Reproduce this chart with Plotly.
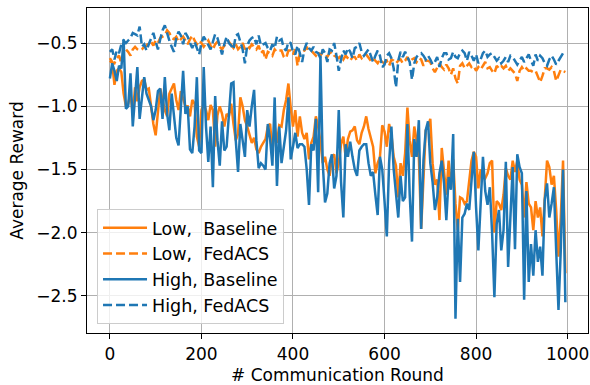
import plotly.graph_objects as go

# Communication rounds (every 5 rounds)
rounds = list(range(0, 1000, 5))

low_baseline = [
    -0.64, -0.66, -0.83, -0.72, -0.70, -0.73, -0.90, -1.00, -0.98, -0.90,
    -1.06, -0.85, -0.96, -0.85, -0.80, -0.79, -0.87, -0.86, -1.00, -1.14,
    -1.23, -1.05, -0.86, -0.95, -1.03, -1.08, -0.90, -0.86, -0.82, -0.95,
    -1.03, -0.88, -0.95, -1.00, -1.00, -1.08, -0.95, -0.98, -1.24, -1.32,
    -1.03, -0.98, -1.03, -1.11, -0.99, -1.03, -1.32, -1.07, -1.00, -1.06,
    -1.16, -1.06, -1.08, -0.98, -1.14, -1.27, -1.22, -0.93, -1.00, -1.11,
    -1.16, -1.22, -1.29, -1.25, -1.34, -1.37, -1.32, -1.29, -1.26, -1.16,
    -1.14, -1.36, -1.16, -1.29, -1.15, -1.16, -1.03, -0.95, -0.82, -1.01,
    -1.16, -1.03, -1.24, -1.08, -1.21, -1.26, -1.21, -1.42, -1.29, -1.24,
    -1.08, -1.16, -1.28, -1.45, -1.40, -1.50, -1.55, -1.40, -1.38, -1.53,
    -1.45, -1.30, -1.24, -1.40, -1.26, -1.20, -1.19, -1.16, -1.27, -1.30,
    -1.21, -1.16, -1.08, -1.18, -1.26, -1.32, -1.53, -1.45, -1.40, -1.15,
    -1.20, -1.32, -1.14, -1.22, -1.40, -1.47, -1.72, -1.45, -1.55, -1.37,
    -1.01, -1.27, -1.40, -1.16, -1.27, -1.40, -1.97, -1.55, -1.19, -1.16,
    -1.10, -1.45, -1.62, -1.58, -1.90, -1.33, -1.50, -1.70, -1.43, -1.65,
    -1.42, -1.77, -1.98, -1.72, -1.73, -1.77, -1.75, -1.59, -1.43, -1.36,
    -1.40, -1.65, -1.50, -1.55, -1.57, -1.53, -1.45, -1.43, -2.00, -1.75,
    -1.77, -1.82, -1.70, -1.49, -1.55, -1.58, -1.43, -1.52, -1.43, -1.58,
    -1.62, -1.88, -1.60, -1.77, -1.80, -1.98, -1.75, -1.88, -1.80, -2.03,
    -1.72, -1.43, -1.48, -1.62, -1.55, -1.82, -2.19, -1.88, -1.43, -2.32,
]

low_fedacs = [
    -0.62, -0.65, -0.66, -0.62, -0.60, -0.66, -0.58, -0.55, -0.57, -0.60,
    -0.55, -0.53, -0.55, -0.56, -0.55, -0.53, -0.52, -0.50, -0.49, -0.52,
    -0.48, -0.50, -0.46, -0.45, -0.44, -0.40, -0.42, -0.46, -0.47, -0.45,
    -0.49, -0.47, -0.45, -0.48, -0.51, -0.47, -0.44, -0.48, -0.51, -0.48,
    -0.50, -0.53, -0.50, -0.48, -0.52, -0.55, -0.51, -0.49, -0.53, -0.55,
    -0.52, -0.50, -0.49, -0.52, -0.54, -0.51, -0.55, -0.53, -0.50, -0.55,
    -0.52, -0.54, -0.51, -0.53, -0.55, -0.52, -0.58, -0.56, -0.63, -0.57,
    -0.58, -0.60, -0.55, -0.57, -0.56, -0.56, -0.61, -0.62, -0.56, -0.56,
    -0.59, -0.55, -0.68, -0.58, -0.57, -0.56, -0.53, -0.57, -0.56, -0.58,
    -0.60, -0.57, -0.60, -0.57, -0.58, -0.61, -0.58, -0.57, -0.60, -0.61,
    -0.62, -0.60, -0.63, -0.60, -0.62, -0.64, -0.61, -0.61, -0.64, -0.59,
    -0.62, -0.60, -0.59, -0.62, -0.64, -0.62, -0.64, -0.66, -0.63, -0.65,
    -0.66, -0.64, -0.68, -0.63, -0.64, -0.66, -0.64, -0.63, -0.66, -0.64,
    -0.61, -0.65, -0.63, -0.62, -0.65, -0.62, -0.63, -0.68, -0.64, -0.64,
    -0.65, -0.70, -0.73, -0.69, -0.66, -0.69, -0.71, -0.67, -0.70, -0.75,
    -0.70, -0.78, -0.82, -0.68, -0.66, -0.70, -0.68, -0.66, -0.69, -0.68,
    -0.72, -0.69, -0.71, -0.68, -0.65, -0.70, -0.69, -0.72, -0.74, -0.68,
    -0.70, -0.68, -0.70, -0.68, -0.72, -0.70, -0.72, -0.74, -0.80, -0.72,
    -0.69, -0.72, -0.70, -0.72, -0.72, -0.73, -0.72, -0.76, -0.81, -0.76,
    -0.70, -0.70, -0.71, -0.69, -0.72, -0.80, -0.76, -0.71, -0.72, -0.73,
]

high_baseline = [
    -0.78, -0.66, -0.72, -0.80, -0.68, -0.70, -0.47, -1.02, -1.00, -0.74,
    -1.16, -0.95, -0.69, -1.10, -0.95, -0.77, -0.90, -0.96, -1.00, -1.11,
    -1.03, -0.88, -0.86, -1.10, -0.77, -1.06, -1.19, -0.90, -1.08, -1.25,
    -1.31, -1.03, -0.72, -1.06, -1.00, -1.34, -1.37, -1.16, -0.77, -1.35,
    -1.37, -0.69, -1.16, -1.44, -1.16, -1.64, -0.92, -1.27, -1.47, -1.12,
    -1.35, -1.32, -1.10, -0.82, -0.81, -1.27, -1.52, -1.14, -1.27, -1.40,
    -1.03, -1.16, -1.00, -0.87, -1.27, -1.49, -1.45, -1.47, -1.50, -1.14,
    -1.26, -1.47, -0.93, -1.63, -1.16, -1.45, -1.32, -1.19, -0.93, -1.42,
    -1.32, -1.21, -1.33, -1.30, -1.30, -1.32, -1.50, -1.78, -1.30, -1.35,
    -1.10, -1.68, -0.60, -1.45, -1.76, -1.69, -1.45, -1.38, -1.65, -1.55,
    -1.03, -1.60, -1.88, -1.30, -1.40, -1.28, -1.40, -1.50, -1.55, -1.35,
    -1.32, -1.30, -1.30, -1.45, -1.55, -1.52, -1.70, -1.86, -1.40, -1.50,
    -1.75, -2.03, -1.45, -1.16, -1.50, -1.72, -1.88, -1.55, -1.75, -1.72,
    -1.14, -1.70, -2.07, -1.26, -1.40, -1.11, -1.97, -1.43, -1.19, -1.12,
    -1.45, -1.60, -1.82, -1.72, -1.53, -1.43, -1.61, -1.90, -1.56, -1.66,
    -1.22, -2.68, -1.89, -2.39, -1.88, -1.85, -1.77, -1.82, -1.56, -1.36,
    -1.80, -2.14, -1.77, -1.40, -1.67, -1.78, -1.64, -2.00, -2.51, -1.93,
    -1.82, -2.14, -1.98, -1.44, -2.27, -1.88, -1.48, -2.13, -1.38, -1.48,
    -1.53, -2.53, -1.67, -2.39, -2.09, -2.34, -1.98, -2.23, -2.11, -2.34,
    -1.74, -1.61, -1.88, -1.77, -1.64, -2.14, -2.61, -2.14, -1.50, -2.55,
]

high_fedacs = [
    -0.57, -0.55, -0.63, -0.56, -0.58, -0.51, -0.48, -0.50, -0.48, -0.46,
    -0.42, -0.43, -0.44, -0.37, -0.53, -0.51, -0.56, -0.51, -0.46, -0.42,
    -0.49, -0.55, -0.47, -0.40, -0.36, -0.43, -0.48, -0.53, -0.57, -0.46,
    -0.41, -0.44, -0.51, -0.42, -0.45, -0.50, -0.54, -0.49, -0.55, -0.59,
    -0.50, -0.45, -0.48, -0.51, -0.55, -0.49, -0.43, -0.46, -0.53, -0.59,
    -0.51, -0.45, -0.50, -0.52, -0.55, -0.44, -0.43, -0.50, -0.55, -0.66,
    -0.52, -0.48, -0.46, -0.45, -0.51, -0.44, -0.52, -0.51, -0.50, -0.54,
    -0.56, -0.51, -0.54, -0.45, -0.48, -0.47, -0.54, -0.56, -0.49, -0.50,
    -0.57, -0.59, -0.52, -0.58, -0.65, -0.55, -0.50, -0.54, -0.56, -0.53,
    -0.57, -0.58, -0.62, -0.55, -0.58, -0.65, -0.55, -0.56, -0.50, -0.60,
    -0.72, -0.63, -0.56, -0.59, -0.54, -0.57, -0.62, -0.54, -0.53, -0.50,
    -0.57, -0.60, -0.57, -0.55, -0.60, -0.65, -0.60, -0.56, -0.60, -0.69,
    -0.67, -0.60, -0.58, -0.62, -0.70, -0.85, -0.64, -0.57, -0.61, -0.57,
    -0.61, -0.65, -0.79, -0.66, -0.61, -0.59, -0.58, -0.60, -0.63, -0.60,
    -0.63, -0.67, -0.65, -0.61, -0.69, -0.62, -0.58, -0.58, -0.63, -0.62,
    -0.57, -0.61, -0.62, -0.58, -0.56, -0.58, -0.64, -0.57, -0.60, -0.64,
    -0.59, -0.66, -0.63, -0.58, -0.56, -0.61, -0.59, -0.58, -0.61, -0.64,
    -0.62, -0.66, -0.64, -0.61, -0.65, -0.60, -0.61, -0.64, -0.67, -0.64,
    -0.61, -0.65, -0.62, -0.59, -0.64, -0.68, -0.59, -0.64, -0.60, -0.62,
    -0.66, -0.68, -0.63, -0.60, -0.63, -0.67, -0.64, -0.61, -0.58, -0.57,
]

x_tick_vals = [0, 200, 400, 600, 800, 1000]
y_tick_vals = [-2.5, -2.0, -1.5, -1.0, -0.5]
y_tick_text = ["\u22122.5", "\u22122.0", "\u22121.5", "\u22121.0", "\u22120.5"]

ORANGE = "#ff7f0e"
BLUE = "#1f77b4"
FONT = "DejaVu Sans"

series = [
    ("Low,  Baseline", low_baseline, ORANGE, "solid"),
    ("Low,  FedACS", low_fedacs, ORANGE, "9px,4px"),
    ("High, Baseline", high_baseline, BLUE, "solid"),
    ("High, FedACS", high_fedacs, BLUE, "9px,4px"),
]

fig = go.Figure()
for name, vals, color, dash in series:
    fig.add_trace(go.Scatter(
        x=rounds, y=vals, mode="lines", name=name,
        line=dict(color=color, width=2.5, dash=dash),
    ))

axis_common = dict(
    showgrid=True, gridcolor="#b0b0b0", gridwidth=1,
    showline=True, linecolor="black", linewidth=1.2, mirror=True,
    ticks="outside", ticklen=5, tickwidth=1.2, tickcolor="black",
    zeroline=False, automargin=False,
    tickfont=dict(family=FONT, size=17, color="black"),
)

fig.update_layout(
    width=590, height=385,
    margin=dict(l=87, r=2, t=8, b=52),
    plot_bgcolor="white", paper_bgcolor="white",
    font=dict(family=FONT, size=17, color="black"),
    xaxis=dict(
        range=[-50, 1044.5], tickvals=x_tick_vals,
        title=dict(text="# Communication Round", font=dict(family=FONT, size=17), standoff=6),
        **axis_common,
    ),
    yaxis=dict(
        range=[-2.793, -0.223], tickvals=y_tick_vals, ticktext=y_tick_text,
        title=dict(text="Average Reward", font=dict(family=FONT, size=17), standoff=8),
        **axis_common,
    ),
    legend=dict(
        x=0.02, y=0.028, xanchor="left", yanchor="bottom",
        bgcolor="rgba(255,255,255,0.8)", bordercolor="#cccccc", borderwidth=1,
        font=dict(family=FONT, size=17.5, color="black"),
        traceorder="normal", itemwidth=44,
    ),
    showlegend=True,
)

fig.write_html(
    "out.html",
    config={"displayModeBar": False},
    post_script="document.body.style.margin='0';document.body.style.padding='0';",
)
